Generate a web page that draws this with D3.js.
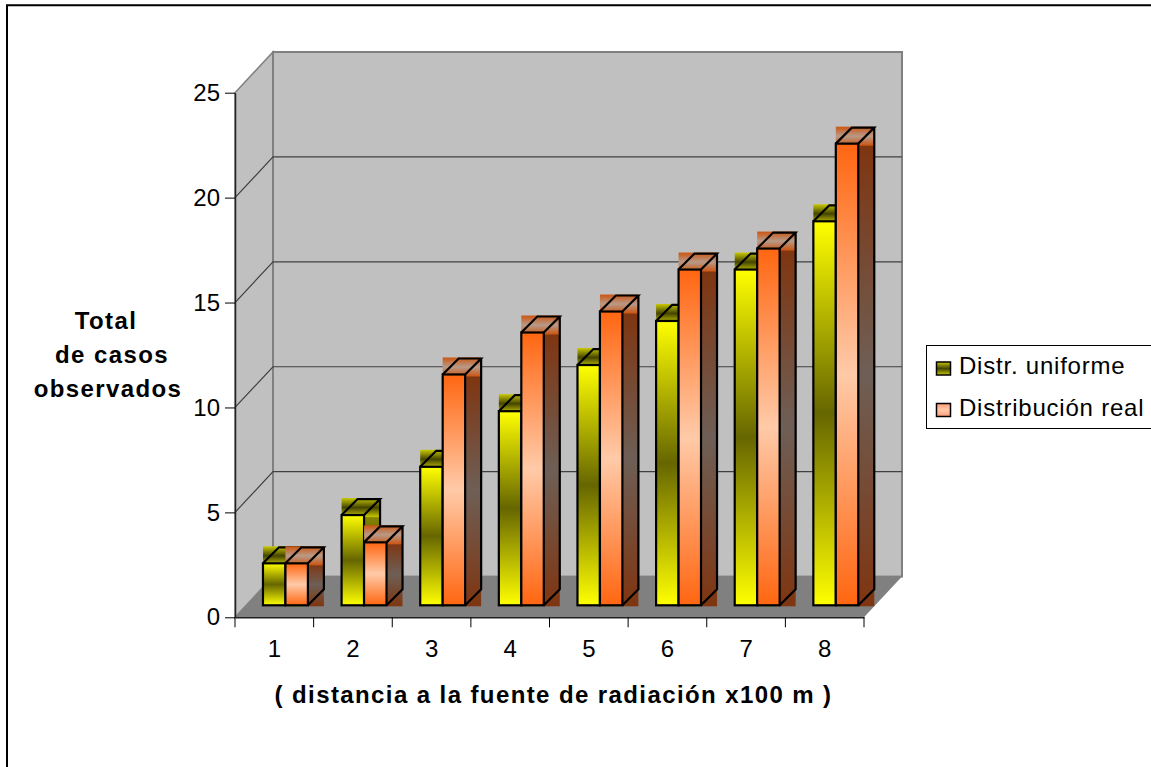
<!DOCTYPE html>
<html>

<head>
    <script src="https://d3js.org/d3.v7.min.js"></script>
    <style>
        html, body {
            margin: 0;
            background: #fff;
            overflow: hidden;
        }

        text {
            font-family: "Liberation Sans", Arial, sans-serif;
            fill: #000;
        }

        .axis-title {
            font-size: 24px;
            font-weight: bold;
            letter-spacing: 1.4px;
        }
    </style>
</head>

<body>
    <svg id="chart" width="1151" height="767"></svg>
    <script>
        var categories = ["1", "2", "3", "4", "5", "6", "7", "8"];
        var seriesNames = ["Distr. uniforme", "Distribución real"];
        var uniforme = [2, 4.3, 6.6, 9.25, 11.45, 13.55, 16, 18.3];
        var real = [2, 3, 11, 13, 14, 16, 17, 22];
        var yTicks = [0, 5, 10, 15, 20, 25];

        var svg = d3.select("#chart");
        var defs = svg.append("defs");

        function gradient(id, ends, mid) {
            var g = defs.append("linearGradient").attr("id", id)
                .attr("x1", 0).attr("y1", 0).attr("x2", 0).attr("y2", 1);
            g.append("stop").attr("offset", "0%").attr("stop-color", ends);
            g.append("stop").attr("offset", "50%").attr("stop-color", mid);
            g.append("stop").attr("offset", "100%").attr("stop-color", ends);
        }
        gradient("y-front", "#ffff00", "#666600");
        gradient("y-top", "#c8c800", "#444400");
        gradient("y-side", "#8a8a00", "#3a3a00");
        gradient("o-front", "#ff6611", "#ffcaa8");
        gradient("o-top", "#cc5511", "#b89a88");
        gradient("o-side", "#7f3510", "#6e5f56");
        gradient("o-key", "#ff9a78", "#ffcaa8");

        // frame, only left and top show in the picture
        svg.append("path").attr("d", "M7,767V5.3H1151")
            .attr("fill", "none").attr("stroke", "#000").attr("stroke-width", 2);

        var x = d3.scaleBand().domain(categories).range([235, 864]);
        var y = d3.scaleLinear().domain([0, 25]).range([617.3, 92.7]);
        var inner = d3.scaleBand().domain(seriesNames)
            .range([0, x.bandwidth()]).paddingInner(0).paddingOuter(0.75).align(0.83);

        // depth of the 3d box and of one bar
        var depthX = 38, depthY = 40.7;
        var barDepthX = 16, barDepthY = 16;
        var barShiftY = 12;

        var x0 = x.range()[0], x1 = x.range()[1];
        var y0 = y(0), yTop = y(25);

        // walls and floor
        svg.append("polygon")
            .attr("points", [[x0, yTop], [x0 + depthX, yTop - depthY], [x0 + depthX, y0 - depthY], [x0, y0]].join(" "))
            .attr("fill", "#c0c0c0").attr("stroke", "#808080").attr("stroke-width", 1.5);
        svg.append("rect")
            .attr("x", x0 + depthX).attr("y", yTop - depthY)
            .attr("width", x1 - x0).attr("height", y0 - yTop)
            .attr("fill", "#c0c0c0").attr("stroke", "#808080").attr("stroke-width", 2);
        svg.append("polygon")
            .attr("points", [[x0, y0], [x0 + depthX, y0 - depthY], [x1 + depthX, y0 - depthY], [x1, y0]].join(" "))
            .attr("fill", "#808080");

        // grid on side wall and back wall
        svg.selectAll(".grid")
            .data(yTicks.slice(1, -1))
            .enter()
            .append("path")
            .attr("class", "grid")
            .attr("d", function(d) {
                return "M" + x0 + "," + y(d) + "L" + (x0 + depthX) + "," + (y(d) - depthY) + "H" + (x1 + depthX);
            })
            .attr("fill", "none").attr("stroke", "#404040").attr("stroke-width", 1.2);

        // axes
        var yAxis = svg.append("g")
            .attr("transform", "translate(" + x0 + ",0)")
            .call(d3.axisLeft(y).tickValues(yTicks).tickSize(10).tickPadding(5).tickSizeOuter(0));
        yAxis.selectAll("text").style("font-size", "24px");
        yAxis.select(".domain").attr("stroke", "#222").attr("stroke-width", 1.5);

        var xAxis = svg.append("g")
            .attr("transform", "translate(0," + y0 + ")")
            .call(d3.axisBottom(x).tickSize(0).tickPadding(23));
        xAxis.selectAll("text").style("font-size", "24px");
        xAxis.select(".domain").attr("stroke", "#222").attr("stroke-width", 1.5);

        svg.selectAll(".x-tick")
            .data(categories.concat("end"))
            .enter()
            .append("line")
            .attr("class", "x-tick")
            .attr("x1", function(d, i) { return x0 + i * x.step(); })
            .attr("x2", function(d, i) { return x0 + i * x.step(); })
            .attr("y1", y0).attr("y2", y0 + 10)
            .attr("stroke", "#000").attr("stroke-width", 1);

        // bars: each face is a bounding box filled with the gradient, then the outline on top
        function drawBars(values, name, prefix) {
            var rows = values.map(function(v, i) {
                var left = x(categories[i]) + inner(name);
                return { left: left, right: left + inner.bandwidth(), top: y(v) - barShiftY, base: y(0) - barShiftY };
            });
            var g = svg.append("g").attr("class", "series");
            var bar = g.selectAll("g").data(rows).enter().append("g");
            bar.append("rect")
                .attr("x", function(d) { return d.right; })
                .attr("y", function(d) { return d.top; })
                .attr("width", barDepthX)
                .attr("height", function(d) { return d.base - d.top + 1; })
                .attr("fill", "url(#" + prefix + "-side)");
            bar.append("rect")
                .attr("x", function(d) { return d.left; })
                .attr("y", function(d) { return d.top - barDepthY - 1; })
                .attr("width", function(d) { return d.right - d.left + barDepthX; })
                .attr("height", barDepthY + 3)
                .attr("fill", "url(#" + prefix + "-top)");
            bar.append("rect")
                .attr("x", function(d) { return d.left; })
                .attr("y", function(d) { return d.top; })
                .attr("width", function(d) { return d.right - d.left; })
                .attr("height", function(d) { return d.base - d.top; })
                .attr("fill", "url(#" + prefix + "-front)")
                .attr("stroke", "#000").attr("stroke-width", 2.2);
            bar.append("path")
                .attr("d", function(d) {
                    return "M" + d.left + "," + d.top + "L" + (d.left + barDepthX) + "," + (d.top - barDepthY)
                        + "H" + (d.right + barDepthX) + "L" + d.right + "," + d.top
                        + "M" + (d.right + barDepthX) + "," + (d.top - barDepthY)
                        + "V" + (d.base - barDepthY) + "L" + d.right + "," + d.base;
                })
                .attr("fill", "none").attr("stroke", "#000").attr("stroke-width", 2.2);
        }
        drawBars(uniforme, seriesNames[0], "y");
        drawBars(real, seriesNames[1], "o");

        // axis titles
        var yTitle = svg.append("text").attr("class", "axis-title").attr("text-anchor", "middle");
        [["Total", 106, 329], ["de casos", 112, 363], ["observados", 108, 397]].forEach(function(d) {
            yTitle.append("tspan").attr("x", d[1]).attr("y", d[2]).text(d[0]);
        });
        svg.append("text").attr("class", "axis-title")
            .attr("x", 553.5).attr("y", 703).attr("text-anchor", "middle")
            .text("( distancia a la fuente de radiación x100 m )");

        // legend
        var legend = svg.append("g");
        legend.append("rect").attr("x", 926.5).attr("y", 345.5).attr("width", 226).attr("height", 83)
            .attr("fill", "#fff").attr("stroke", "#000").attr("stroke-width", 1);
        var legendItem = legend.selectAll(".item").data(seriesNames).enter().append("g").attr("class", "item")
            .attr("transform", function(d, i) { return "translate(0," + (i * 41.5) + ")"; });
        legendItem.append("rect")
            .attr("x", 936.5).attr("y", 362).attr("width", 14).attr("height", 13)
            .attr("fill", function(d, i) { return i ? "url(#o-key)" : "url(#y-top)"; })
            .attr("stroke", "#000").attr("stroke-width", 1.5);
        legendItem.append("text")
            .attr("x", 959).attr("y", 374)
            .style("font-size", "24px").style("letter-spacing", "0.78px")
            .text(function(d) { return d; });
    </script>
</body>

</html>
